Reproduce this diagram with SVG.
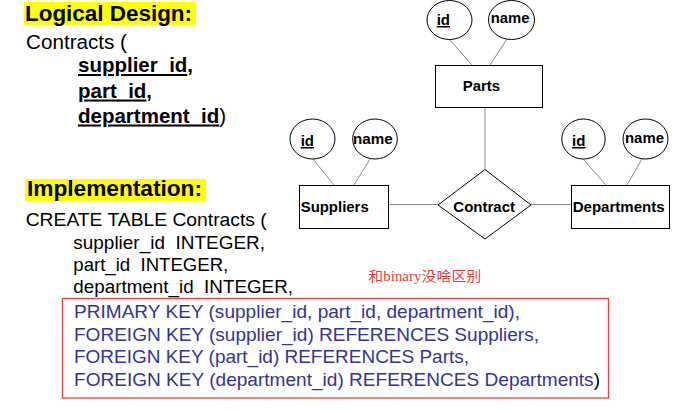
<svg xmlns="http://www.w3.org/2000/svg" width="682" height="411" viewBox="0 0 682 411">
<style>
  text { font-family: "Liberation Sans", Arial, sans-serif; fill: #000; }
  .h { font-size: 22px; font-weight: bold; }
  .l { font-size: 20.5px; }
  .lb { font-size: 20.5px; font-weight: bold; }
  .u { text-decoration: underline; }
  .c { font-size: 19px; }
  .blue { fill: #333399; }
  .lbl { font-size: 15px; font-weight: bold; }
  .ent { fill: #fff; stroke: #000; stroke-width: 1; }
  .attr { fill: #fff; stroke: #000; stroke-width: 1; }
  .conn line { stroke: #8a8a8a; stroke-width: 1; }
  .note { font-family: "Liberation Serif", "Noto Sans CJK SC", serif; font-size: 14px; fill: #f03a3a; }
</style>

<g id="logical-design">
  <rect x="24" y="2" width="172" height="23" fill="#ffff00"/>
  <text class="h" x="25" y="20.5" textLength="167" lengthAdjust="spacingAndGlyphs">Logical Design:</text>
  <text class="l" x="26" y="49" textLength="101" lengthAdjust="spacingAndGlyphs">Contracts (</text>
  <text class="lb" x="78" y="72"><tspan class="u">supplier_id</tspan>,</text>
  <text class="lb" x="78" y="97.5"><tspan class="u">part_id</tspan>,</text>
  <text class="lb" x="78" y="122.5"><tspan class="u">department_id</tspan><tspan font-weight="normal">)</tspan></text>
</g>

<g id="implementation">
  <rect x="25" y="179" width="181" height="22" fill="#ffff00"/>
  <text class="h" x="27" y="196" textLength="175" lengthAdjust="spacingAndGlyphs">Implementation:</text>
  <text class="c" x="25.7" y="226" textLength="241" lengthAdjust="spacingAndGlyphs">CREATE TABLE Contracts (</text>
  <text class="c" x="73.3" y="248.7" xml:space="preserve" textLength="191.7" lengthAdjust="spacingAndGlyphs">supplier_id  INTEGER,</text>
  <text class="c" x="73.3" y="271" xml:space="preserve" textLength="155" lengthAdjust="spacingAndGlyphs">part_id  INTEGER,</text>
  <text class="c" x="73.3" y="293" xml:space="preserve" textLength="219.7" lengthAdjust="spacingAndGlyphs">department_id  INTEGER,</text>
  <rect x="62.5" y="298.5" width="546" height="99.5" fill="none" stroke="#ff3b3b" stroke-width="1.3"/>
  <text class="c blue" x="74" y="317.7" textLength="446" lengthAdjust="spacingAndGlyphs">PRIMARY KEY (supplier_id, part_id, department_id),</text>
  <text class="c blue" x="74" y="340.5" textLength="465" lengthAdjust="spacingAndGlyphs">FOREIGN KEY (supplier_id) REFERENCES Suppliers,</text>
  <text class="c blue" x="74" y="363.3" textLength="395" lengthAdjust="spacingAndGlyphs">FOREIGN KEY (part_id) REFERENCES Parts,</text>
  <text class="c blue" x="74" y="386" textLength="526" lengthAdjust="spacingAndGlyphs">FOREIGN KEY (department_id) REFERENCES Departments<tspan fill="#000">)</tspan></text>
</g>

<g id="note">
  <text class="note" x="368.3" y="281" textLength="113" lengthAdjust="spacingAndGlyphs">和binary没啥区别</text>
</g>

<g class="conn" id="connectors">
  <line x1="449" y1="39" x2="472" y2="65"/>
  <line x1="507" y1="39" x2="490" y2="65"/>
  <line x1="485" y1="107" x2="485" y2="169"/>
  <line x1="313" y1="159" x2="334" y2="185"/>
  <line x1="370" y1="159" x2="354" y2="185"/>
  <line x1="583" y1="159" x2="606" y2="185"/>
  <line x1="642" y1="159" x2="627" y2="185"/>
  <line x1="388" y1="204.5" x2="438" y2="204.5"/>
  <line x1="531" y1="204.5" x2="571" y2="204.5"/>
</g>

<g id="parts">
  <rect class="ent" x="435.5" y="65.5" width="107" height="42"/>
  <text class="lbl" x="462.7" y="90.7" textLength="37.3" lengthAdjust="spacingAndGlyphs">Parts</text>
</g>
<g id="parts-id">
  <ellipse class="attr" cx="449.5" cy="20" rx="22.5" ry="19.5"/>
  <text class="lbl u" x="436.7" y="25">id</text>
</g>
<g id="parts-name">
  <ellipse class="attr" cx="511.5" cy="20" rx="23" ry="19.5"/>
  <text class="lbl" x="490.7" y="23" textLength="38.7" lengthAdjust="spacingAndGlyphs">name</text>
</g>

<g id="suppliers">
  <rect class="ent" x="299.5" y="185.5" width="89" height="43"/>
  <text class="lbl" x="300.7" y="212" textLength="68" lengthAdjust="spacingAndGlyphs">Suppliers</text>
</g>
<g id="suppliers-id">
  <ellipse class="attr" cx="312.5" cy="139" rx="22.5" ry="20"/>
  <text class="lbl u" x="300.7" y="146">id</text>
</g>
<g id="suppliers-name">
  <ellipse class="attr" cx="375" cy="139" rx="22.3" ry="20"/>
  <text class="lbl" x="353" y="144" textLength="39.7" lengthAdjust="spacingAndGlyphs">name</text>
</g>

<g id="departments">
  <rect class="ent" x="571.5" y="185.5" width="98" height="43"/>
  <text class="lbl" x="572.7" y="212" textLength="92" lengthAdjust="spacingAndGlyphs">Departments</text>
</g>
<g id="departments-id">
  <ellipse class="attr" cx="583.5" cy="139" rx="21.7" ry="20"/>
  <text class="lbl u" x="572" y="146">id</text>
</g>
<g id="departments-name">
  <ellipse class="attr" cx="645.5" cy="139" rx="22.5" ry="20"/>
  <text class="lbl" x="625" y="143" textLength="39" lengthAdjust="spacingAndGlyphs">name</text>
</g>

<g id="contract">
  <polygon class="ent" points="485,169.5 531,205 485,239 438,205"/>
  <text class="lbl" x="453.3" y="212" textLength="61.7" lengthAdjust="spacingAndGlyphs">Contract</text>
</g>
</svg>
